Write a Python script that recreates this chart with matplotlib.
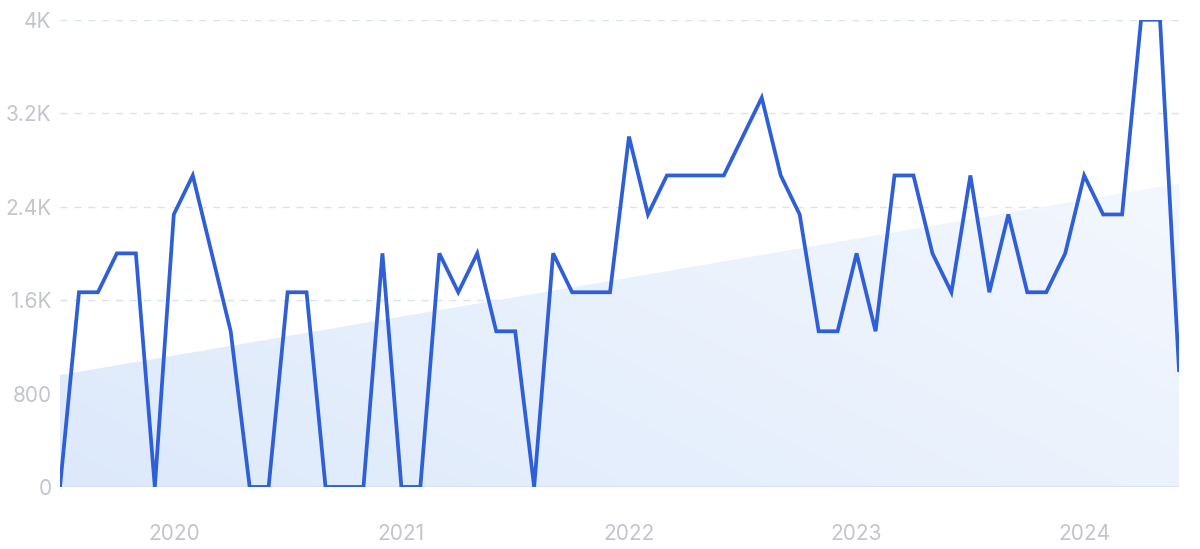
import numpy as np
import pandas as pd
import matplotlib.pyplot as plt
from matplotlib.patches import Polygon

# Monthly values, Jul 2019 - Jun 2024
months = pd.date_range('2019-07-01', periods=60, freq='MS')
values = [
    0, 1667, 1667, 2000, 2000, 0,                                        # 2019 H2
    2333, 2667, 2000, 1333, 0, 0, 1667, 1667, 0, 0, 0, 2000,             # 2020
    0, 0, 2000, 1667, 2000, 1333, 1333, 0, 2000, 1667, 1667, 1667,       # 2021
    3000, 2333, 2667, 2667, 2667, 2667, 3000, 3333, 2667, 2333, 1333, 1333,  # 2022
    2000, 1333, 2667, 2667, 2000, 1667, 2667, 1667, 2333, 1667, 1667, 2000,  # 2023
    2667, 2333, 2333, 4000, 4000, 1000,                                  # 2024 H1
]
# trend line ends
trend_start = 958
trend_end = 2598

yticks = [0, 800, 1600, 2400, 3200, 4000]
ytick_labels = ['0', '800', '1.6K', '2.4K', '3.2K', '4K']

plt.rcParams['font.family'] = ['Inter', 'DejaVu Sans']

fig = plt.figure(figsize=(12, 5.49), dpi=100)
ax = fig.add_axes([0.05, 0.113, 0.9325, 0.851])

x = np.arange(len(values))
xmax = len(values) - 1

# gradient-filled trend area
poly = Polygon([[0, 0], [0, trend_start], [xmax, trend_end], [xmax, 0]],
               closed=True, facecolor='none', edgecolor='none')
ax.add_patch(poly)
gx, gy = np.meshgrid(np.linspace(0, 1, 200), np.linspace(0, 1, 100))
t = 0.65 * gx + 0.35 * (1 - gy)
c0 = np.array([0.865, 0.915, 0.985])
c1 = np.array([0.955, 0.97, 0.995])
img = c0[None, None, :] * (1 - t[..., None]) + c1[None, None, :] * t[..., None]
im = ax.imshow(img, extent=[0, xmax, 0, trend_end], origin='upper',
               aspect='auto', zorder=1)
im.set_clip_path(poly)

# grid
for yv in yticks[1:]:
    ax.axhline(yv, color='#d8e2f3', lw=1, ls=(0, (5, 5)), zorder=0.5)
ax.axhline(0, color='#d6dfee', lw=1.2, zorder=1.5)

ax.plot(x, values, color='#2f5fd8', lw=2.7, solid_joinstyle='miter', zorder=3)

ax.set_xlim(0, xmax)
ax.set_ylim(0, 4000)

ax.set_yticks(yticks)
ax.set_yticklabels(ytick_labels)
year_pos = [i for i, m in enumerate(months) if m.month == 1]
ax.set_xticks(year_pos)
ax.set_xticklabels([str(months[i].year) for i in year_pos])

ax.tick_params(axis='both', length=0, labelsize=15, labelcolor='#c3c5cc')
ax.tick_params(axis='y', pad=6)
ax.tick_params(axis='x', pad=27)
for s in ax.spines.values():
    s.set_visible(False)

plt.savefig('out.png', dpi=100)
